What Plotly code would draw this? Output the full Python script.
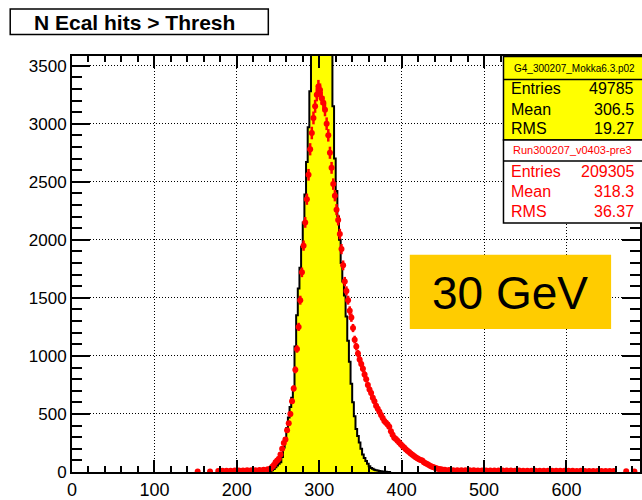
import plotly.graph_objects as go

# ---------------- data ----------------
# G4 simulation histogram (yellow): bins of width 2 starting at 240
sim_start, sim_width = 240, 2
sim_counts = [5, 15, 25, 40, 55, 70, 85, 130, 210, 290,
              380, 470, 560, 640, 720, 1080, 1350, 1580, 1760, 1940,
              2150, 2390, 2670, 2970, 3280, 3700, 4000, 4300, 4500, 4650,
              4750, 4800, 4750, 4650, 4450, 4200, 3900, 3600, 3150, 2700,
              2420, 2200, 2000, 1800, 1640, 1520, 1340, 1130, 950, 760,
              600, 480, 370, 310, 255, 200, 150, 120, 95, 70,
              50, 35, 28, 20, 16, 12, 9, 6, 5, 3,
              2, 1, 1]

# Data run (red points), three ranges of bins (None = empty bin)
data_left_start, data_left_width = 150, 5
data_left_counts = [4, None, None, 4, None, 8, 10, 10, 11, 12,
                    12, 13, 14, 15, 16, 18, 20, 24]
data_core_start, data_core_width = 240, 2
data_core_counts = [30, 45, 60, 85, 100, 115, 150, 200, 250, 280,
                    360, 420, 500, 610, 720, 880, 1060, 1250, 1480, 1720,
                    1950, 2150, 2350, 2560, 2780, 2920, 3050, 3150, 3250, 3320,
                    3290, 3220, 3180, 3120, 3000, 2900, 2750, 2620, 2480, 2380,
                    2260, 2170, 2050, 1920, 1780, 1640, 1560, 1480, 1390, 1330,
                    1240, 1140, 1080, 1020, 970, 930, 890, 840, 800, 750,
                    710, 680, 640, 610, 570, 545, 520, 490, 465, 440,
                    425, 410, 390, 350, 320, 295, 285, 270, 255, 240,
                    225, 210, 195, 182, 172, 160, 148, 138, 128, 118,
                    110, 104, 98, 85, 76, 68, 60, 52, 45, 40,
                    34, 30, 26, 23, 21]
data_right_start, data_right_width = 450, 5
data_right_counts = [19, 17, 16, 15, 15, 14, 14, 14, 13, 13,
                     13, 12, 13, 12, 12, 12, 12, 11, 12, 11,
                     11, 11, 11, 11, 10, 11, 10, 10, 10, 10,
                     10, 10, 9, 10, 9, 9, 9, 9, 9, 8,
                     8, 8, None, None, 6, None, 5, None]

x_ticks = [0, 100, 200, 300, 400, 500, 600]
y_ticks = [0, 500, 1000, 1500, 2000, 2500, 3000, 3500]

title_text = "N Ecal hits > Thresh"
sim_name = "G4_300207_Mokka6.3.p02"
data_name = "Run300207_v0403-pre3"
stat_labels = ["Entries", "Mean", "RMS"]
sim_stats = ["49785", "306.5", "19.27"]
data_stats = ["209305", "318.3", "36.37"]
energy_label = "30 GeV"

# ---------------- build traces ----------------
sim_edges = [sim_start + i * sim_width for i in range(len(sim_counts) + 1)]
step_x = [sim_edges[0]] + sim_edges[:-1] + [sim_edges[-1]]
step_y = [0] + sim_counts + [0]

data_x, data_y, data_hw = [], [], []
for start, width, counts in [(data_left_start, data_left_width, data_left_counts),
                             (data_core_start, data_core_width, data_core_counts),
                             (data_right_start, data_right_width, data_right_counts)]:
    for i, c in enumerate(counts):
        data_x.append(start + (i + 0.5) * width)
        data_y.append(c)
        data_hw.append(width / 2)

fig = go.Figure()
fig.add_trace(go.Scatter(
    x=step_x, y=step_y, mode="lines", line=dict(shape="hv", color="black", width=2),
    fill="tozeroy", fillcolor="#FFFF00", hoverinfo="skip", showlegend=False))
fig.add_trace(go.Scatter(
    x=data_x, y=data_y, mode="markers",
    marker=dict(color="#FF0000", size=6, symbol="circle"),
    error_y=dict(type="sqrt", color="#FF0000", thickness=2.5, width=0),
    error_x=dict(type="data", array=data_hw, color="#FF0000", thickness=2.5, width=0),
    showlegend=False))

# ---------------- layout geometry ----------------
W, H = 642, 500
ML, MR, MT, MB = 72, 0, 56, 19
PW, PH = W - ML - MR, H - MT - MB
XSCALE = 0.827   # px per unit
YSCALE = 59.3 / 500
x_max = PW / XSCALE
y_max = PH / YSCALE


def px(x):
    return (x - ML) / PW


def py(y):
    return (H - MB - y) / PH


FONT = "Liberation Sans, Arial, Helvetica, sans-serif"

shapes = []
annotations = []

# title box
shapes.append(dict(type="rect", xref="paper", yref="paper", x0=px(10), x1=px(269), y0=py(34), y1=py(8),
                   line=dict(color="black", width=1.5), fillcolor="white", layer="above"))
annotations.append(dict(xref="paper", yref="paper", x=px(135), y=py(21.5),
                        text="<b>" + title_text.replace(">", "&gt;") + "</b>",
                        showarrow=False, xanchor="center", yanchor="middle",
                        font=dict(family=FONT, size=21, color="black")))

# stats box 1 (yellow)
shapes.append(dict(type="rect", xref="paper", yref="paper", x0=px(505), x1=px(660), y0=py(141.7), y1=py(56.5),
                   line=dict(color="black", width=1.5), fillcolor="#FFFF00", layer="above"))
shapes.append(dict(type="line", xref="paper", yref="paper", x0=px(505), x1=px(660), y0=py(80), y1=py(80),
                   line=dict(color="black", width=1.5), layer="above"))
# stats box 2 (white, red text)
shapes.append(dict(type="rect", xref="paper", yref="paper", x0=px(505), x1=px(660), y0=py(226.7), y1=py(141.7),
                   line=dict(color="black", width=1.5), fillcolor="white", layer="above"))
shapes.append(dict(type="line", xref="paper", yref="paper", x0=px(505), x1=px(660), y0=py(163.3), y1=py(163.3),
                   line=dict(color="black", width=1.5), layer="above"))

annotations.append(dict(xref="paper", yref="paper", x=px(576), y=py(68.5), text=sim_name, showarrow=False,
                        xanchor="center", yanchor="middle", font=dict(family=FONT, size=10, color="black")))
annotations.append(dict(xref="paper", yref="paper", x=px(574), y=py(152.5), text=data_name, showarrow=False,
                        xanchor="center", yanchor="middle", font=dict(family=FONT, size=11, color="#FF0000")))
for i, (lab, v1, v2) in enumerate(zip(stat_labels, sim_stats, data_stats)):
    y1 = [89.5, 110.5, 130.5][i]
    y2 = [173.5, 194.5, 214.5][i]
    annotations.append(dict(xref="paper", yref="paper", x=px(511), y=py(y1), text=lab, showarrow=False,
                            xanchor="left", yanchor="middle", font=dict(family=FONT, size=16, color="black")))
    annotations.append(dict(xref="paper", yref="paper", x=px(638), y=py(y1), text=v1, showarrow=False,
                            xanchor="right", yanchor="middle", font=dict(family=FONT, size=16, color="black")))
    annotations.append(dict(xref="paper", yref="paper", x=px(511), y=py(y2), text=lab, showarrow=False,
                            xanchor="left", yanchor="middle", font=dict(family=FONT, size=16, color="#FF0000")))
    annotations.append(dict(xref="paper", yref="paper", x=px(638), y=py(y2), text=v2, showarrow=False,
                            xanchor="right", yanchor="middle", font=dict(family=FONT, size=16, color="#FF0000")))

# 30 GeV box
shapes.append(dict(type="rect", xref="paper", yref="paper", x0=px(411), x1=px(613), y0=py(335), y1=py(259),
                   line=dict(width=0), fillcolor="#FFCC00", layer="above"))
annotations.append(dict(xref="paper", yref="paper", x=px(512), y=py(298), text=energy_label, showarrow=False,
                        xanchor="center", yanchor="middle", font=dict(family=FONT, size=46, color="black")))

fig.update_layout(
    width=W, height=H,
    margin=dict(l=ML, r=MR, t=MT, b=MB, pad=0),
    paper_bgcolor="white", plot_bgcolor="white",
    font=dict(family=FONT, color="black"),
    shapes=shapes, annotations=annotations,
    showlegend=False,
)
fig.update_xaxes(
    range=[0, x_max], tickmode="array", tickvals=x_ticks, ticktext=[str(v) for v in x_ticks],
    ticks="inside", ticklen=12, tickwidth=1.5, tickcolor="black",
    minor=dict(dtick=20, ticks="inside", ticklen=6, tickwidth=1.5, tickcolor="black", showgrid=False),
    showline=True, linecolor="black", linewidth=2, mirror="ticks",
    showgrid=True, gridcolor="black", griddash="1px,2px", gridwidth=1,
    zeroline=False, tickfont=dict(family=FONT, size=18, color="black"),
)
fig.update_yaxes(
    range=[0, y_max], tickmode="array", tickvals=y_ticks, ticktext=[str(v) for v in y_ticks],
    ticks="inside", ticklen=18, tickwidth=1.5, tickcolor="black",
    minor=dict(dtick=100, ticks="inside", ticklen=10, tickwidth=1.5, tickcolor="black", showgrid=False),
    showline=True, linecolor="black", linewidth=2, mirror="ticks",
    showgrid=True, gridcolor="black", griddash="1px,2px", gridwidth=1,
    zeroline=False, tickfont=dict(family=FONT, size=17, color="black"),
)

fig.write_html("out.html")
